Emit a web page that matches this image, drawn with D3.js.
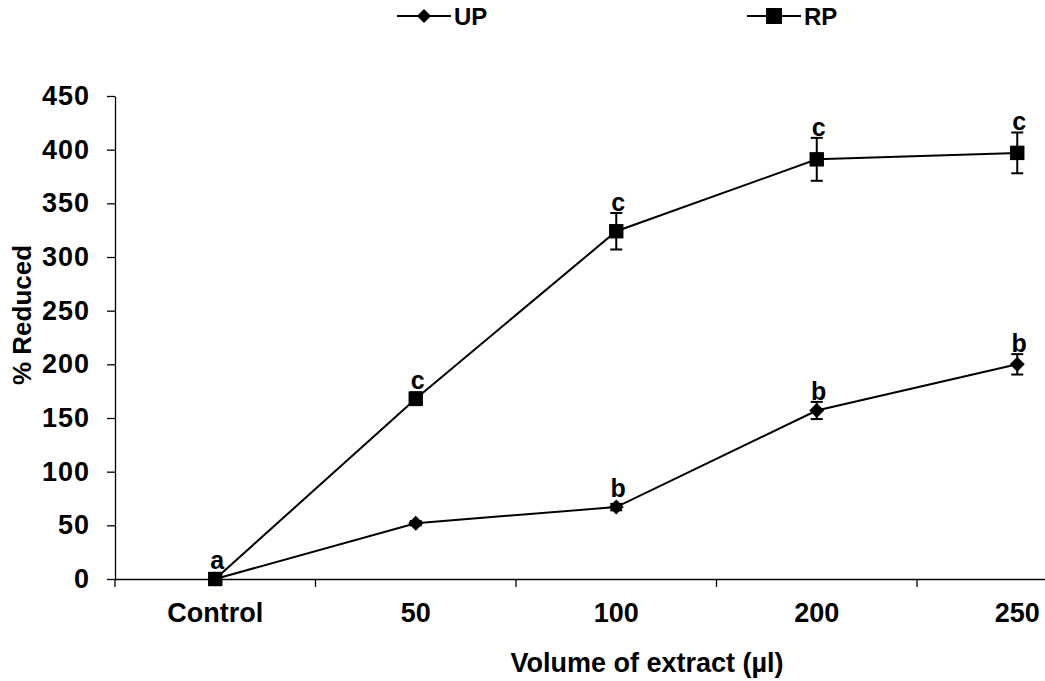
<!DOCTYPE html>
<html>
<head>
<meta charset="utf-8">
<script src="https://cdn.jsdelivr.net/npm/d3@7"></script>
<style>
  html, body { margin: 0; padding: 0; background: #fff; }
  svg { display: block; font-family: "Liberation Sans", Arial, sans-serif; font-weight: bold; }
</style>
</head>
<body>
<svg id="chart" width="1045" height="681"></svg>
<script>
// Categories along the x axis
const categories = ["Control", "50", "100", "200", "250"];
// Series: percentage reduced for each extract volume
const upValues = [0, 52, 67, 157, 200];
const upErrors = [0, 2, 3, 8, 9.5];
const upLetters = ["", "", "b", "b", "b"];
const rpValues = [0, 168, 324, 391, 397];
const rpErrors = [0, 6, 17, 20, 19];
const rpLetters = ["a", "c", "c", "c", "c"];
// Y axis ticks
const yTicks = [0, 50, 100, 150, 200, 250, 300, 350, 400, 450];

const svg = d3.select("#chart");
const plotLeft = 115, plotTop = 96, plotBottom = 579, band = 200.5;
const fontFamily = "'Liberation Sans', Arial, sans-serif";

const x = d3.scaleBand().domain(categories).range([plotLeft, plotLeft + band * categories.length]).padding(0);
const y = d3.scaleLinear().domain([0, 450]).range([plotBottom, plotTop]);
const cx = c => x(c) + x.bandwidth() / 2;

// Y axis
const yAxis = svg.append("g")
  .attr("transform", `translate(${plotLeft},0)`)
  .call(d3.axisLeft(y).tickValues(yTicks).tickSize(8).tickSizeOuter(0).tickPadding(17));
yAxis.select(".domain").attr("stroke", "#000").attr("stroke-width", 1.3);
yAxis.selectAll(".tick line").attr("stroke", "#000").attr("stroke-width", 1.3);
yAxis.selectAll(".tick text")
  .attr("fill", "#000").style("font-size", "27px").style("font-weight", "bold")
  .style("letter-spacing", "1px").style("font-family", fontFamily);

// X axis (labels at category centres, ticks at category boundaries)
const xAxis = svg.append("g")
  .attr("transform", `translate(0,${plotBottom})`)
  .call(d3.axisBottom(x).tickSize(0).tickSizeOuter(0).tickPadding(24));
xAxis.select(".domain").attr("stroke", "#000").attr("stroke-width", 1.3);
xAxis.selectAll(".tick text")
  .attr("fill", "#000").style("font-size", "27px").style("font-weight", "bold")
  .style("font-family", fontFamily);
const boundaries = categories.map(c => x(c)).concat([x.range()[1]]);
xAxis.selectAll(".bound").data(boundaries).enter().append("line")
  .attr("class", "bound")
  .attr("x1", d => d).attr("x2", d => d)
  .attr("y1", 0).attr("y2", 8)
  .attr("stroke", "#000").attr("stroke-width", 1.3);

// Axis titles
svg.append("text")
  .attr("transform", `translate(31,315) rotate(-90)`)
  .attr("text-anchor", "middle")
  .style("font-size", "26px")
  .text("% Reduced");
svg.append("text")
  .attr("x", 647).attr("y", 672)
  .attr("text-anchor", "middle")
  .style("font-size", "27px")
  .text("Volume of extract (µl)");

// Markers
const diamondPath = s => `M0,${-s}L${s},0L0,${s}L${-s},0Z`;
const squarePath = s => `M${-s},${-s}H${s}V${s}H${-s}Z`;

const series = [
  { name: "UP", values: upValues, errors: upErrors, letters: upLetters, marker: diamondPath(7.5) },
  { name: "RP", values: rpValues, errors: rpErrors, letters: rpLetters, marker: squarePath(7.2) }
];

const line = d3.line().x((d, i) => cx(categories[i])).y(d => y(d));

series.forEach(s => {
  const g = svg.append("g");
  g.append("path")
    .attr("d", line(s.values))
    .attr("fill", "none").attr("stroke", "#000").attr("stroke-width", 2);

  // Error bars
  s.values.forEach((v, i) => {
    const e = s.errors[i];
    if (e <= 0) return;
    const px = cx(categories[i]);
    g.append("line").attr("x1", px).attr("x2", px).attr("y1", y(v + e)).attr("y2", y(v - e))
      .attr("stroke", "#000").attr("stroke-width", 2);
    [v + e, v - e].forEach(w => {
      g.append("line").attr("x1", px - 6).attr("x2", px + 6).attr("y1", y(w)).attr("y2", y(w))
        .attr("stroke", "#000").attr("stroke-width", 2);
    });
  });

  g.selectAll(".m").data(s.values).enter().append("path")
    .attr("transform", (d, i) => `translate(${cx(categories[i])},${y(d)})`)
    .attr("d", s.marker).attr("fill", "#000");

  // Significance letters
  g.selectAll(".lbl").data(s.values).enter().append("text")
    .attr("x", (d, i) => cx(categories[i]) + 2)
    .attr("y", (d, i) => Math.min(y(d + s.errors[i]), y(d) - 8) - 2)
    .attr("text-anchor", "middle")
    .style("font-size", "25px")
    .text((d, i) => s.letters[i]);
});

// Legend
const legend = [
  { name: "UP", x0: 397, marker: diamondPath(7) },
  { name: "RP", x0: 747, marker: squarePath(8) }
];
legend.forEach(l => {
  const g = svg.append("g").attr("transform", `translate(${l.x0},16)`);
  g.append("line").attr("x1", 0).attr("x2", 54).attr("y1", 0).attr("y2", 0)
    .attr("stroke", "#000").attr("stroke-width", 2);
  g.append("path").attr("transform", "translate(27,0)").attr("d", l.marker).attr("fill", "#000");
  g.append("text").attr("x", 57).attr("y", 9).style("font-size", "24px").text(l.name);
});
</script>
</body>
</html>
